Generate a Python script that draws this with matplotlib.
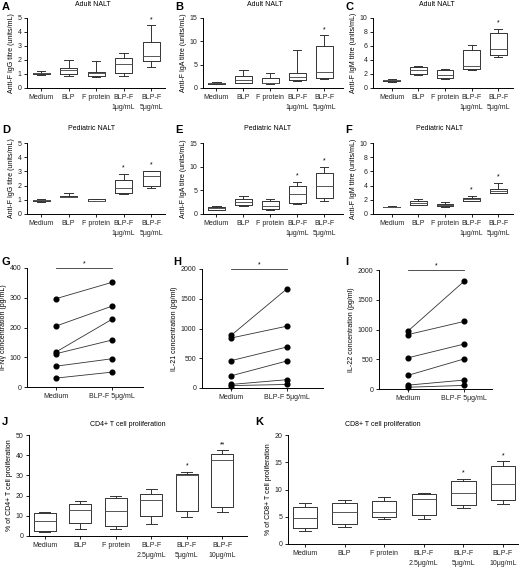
import matplotlib
matplotlib.use("Agg")
import matplotlib.pyplot as plt

plt.rcParams['font.family'] = ['Liberation Sans', 'DejaVu Sans']
plt.rcParams['font.size'] = 5
plt.rcParams['axes.linewidth'] = 0.7
plt.rcParams['xtick.major.width'] = 0.7
plt.rcParams['ytick.major.width'] = 0.7
plt.rcParams['xtick.major.size'] = 2.5
plt.rcParams['ytick.major.size'] = 2.5
plt.rcParams['xtick.major.pad'] = 2
plt.rcParams['ytick.major.pad'] = 1.5

W, H = 520, 567

# ---------------- data ----------------
cats5 = ["Medium", "BLP", "F protein", "BLP-F\n1μg/mL", "BLP-F\n5μg/mL"]
cats6 = ["Medium", "BLP", "F protein", "BLP-F\n2.5μg/mL", "BLP-F\n5μg/mL", "BLP-F\n10μg/mL"]

# box stats: whisker low, q1, median, q3, whisker high
A_lo  = [0.95, 0.85, 0.80, 0.85, 1.50]
A_q1  = [1.00, 1.00, 0.85, 1.10, 1.95]
A_med = [1.05, 1.30, 1.05, 1.70, 2.30]
A_q3  = [1.10, 1.45, 1.15, 2.15, 3.30]
A_hi  = [1.20, 2.00, 1.95, 2.50, 4.50]
A_sig = ["", "", "", "", "*"]

B_lo  = [0.80, 1.00, 0.90, 1.50, 2.00]
B_q1  = [0.90, 1.10, 1.00, 1.80, 2.20]
B_med = [1.00, 1.70, 1.10, 2.40, 3.40]
B_q3  = [1.10, 2.60, 2.20, 3.20, 9.10]
B_hi  = [1.30, 3.80, 3.20, 8.20, 11.30]
B_sig = ["", "", "", "", "*"]

C_lo  = [0.90, 1.90, 1.30, 2.60, 4.40]
C_q1  = [1.00, 2.00, 1.40, 2.70, 4.70]
C_med = [1.10, 2.60, 1.80, 3.20, 5.60]
C_q3  = [1.20, 3.05, 2.60, 5.50, 7.80]
C_hi  = [1.30, 3.10, 2.70, 6.20, 8.50]
C_sig = ["", "", "", "", "*"]

D_lo  = [0.85, 1.20, 0.90, 1.40, 1.85]
D_q1  = [0.95, 1.20, 0.90, 1.50, 2.00]
D_med = [1.00, 1.22, 0.95, 1.80, 2.70]
D_q3  = [1.02, 1.25, 1.05, 2.40, 3.00]
D_hi  = [1.05, 1.45, 1.05, 2.85, 3.05]
D_sig = ["", "", "", "*", "*"]

E_lo  = [0.80, 1.60, 0.80, 2.20, 2.80]
E_q1  = [0.90, 2.00, 1.00, 2.40, 3.30]
E_med = [1.20, 2.50, 1.60, 4.20, 6.00]
E_q3  = [1.50, 3.20, 2.70, 6.00, 8.60]
E_hi  = [1.60, 3.90, 3.20, 6.80, 10.00]
E_sig = ["", "", "", "*", "*"]

F_lo  = [0.95, 1.20, 1.00, 1.80, 2.90]
F_q1  = [1.00, 1.30, 1.10, 1.90, 3.00]
F_med = [1.00, 1.55, 1.25, 2.10, 3.20]
F_q3  = [1.05, 1.80, 1.35, 2.30, 3.50]
F_hi  = [1.10, 2.10, 1.65, 2.60, 4.40]
F_sig = ["", "", "", "*", "*"]

pair_cats = ["Medium", "BLP-F 5μg/mL"]
G_medium = [297, 205, 118, 112, 70, 30]
G_blpf   = [352, 272, 228, 158, 95, 50]
H_medium = [885, 840, 460, 205, 60, 40]
H_blpf   = [1670, 1040, 690, 455, 140, 60]
I_medium = [975, 915, 525, 230, 65, 30]
I_blpf   = [1810, 1135, 755, 505, 150, 60]

J_lo  = [2.0, 3.5, 3.7, 6.0, 9.5, 11.8]
J_q1  = [2.3, 6.3, 4.8, 9.7, 12.2, 14.5]
J_med = [7.5, 12.7, 12.3, 18.0, 30.3, 37.7]
J_q3  = [11.5, 16.0, 18.7, 21.0, 30.8, 40.5]
J_hi  = [11.8, 17.2, 20.0, 23.5, 31.8, 42.5]
J_sig = ["", "", "", "", "*", "**"]

K_lo  = [2.4, 3.1, 4.6, 4.6, 6.6, 7.4]
K_q1  = [2.9, 3.6, 4.9, 5.3, 7.1, 8.0]
K_med = [4.7, 5.8, 5.8, 8.3, 9.4, 11.1]
K_q3  = [6.8, 7.5, 7.8, 9.1, 11.5, 14.4]
K_hi  = [7.6, 8.0, 8.6, 9.3, 12.0, 15.2]
K_sig = ["", "", "", "", "*", "*"]

fig = plt.figure(figsize=(W / 100, H / 100), dpi=100)


def px_axes(left, top, right, bottom):
    return fig.add_axes([left / W, 1 - bottom / H, (right - left) / W, (bottom - top) / H])


def style(ax):
    for s in ("top", "right"):
        ax.spines[s].set_visible(False)
    ax.tick_params(direction="out", colors="#222222", labelcolor="#222222")


def box_panel(box, xlim, ylim, yticks, cats, lo, q1, med, q3, hi, sig, ylabel,
              title=None, width=0.62):
    ax = px_axes(*box)
    stats = []
    for i in range(len(cats)):
        stats.append(dict(whislo=lo[i], q1=q1[i], med=med[i], q3=q3[i],
                          whishi=hi[i], fliers=[], label=cats[i]))
    pos = list(range(len(cats)))
    ax.bxp(stats, positions=pos, widths=width, showfliers=False,
           boxprops=dict(color="#333333", linewidth=0.7),
           whiskerprops=dict(color="#333333", linewidth=0.7),
           capprops=dict(color="#333333", linewidth=0.7),
           medianprops=dict(color="#555555", linewidth=0.7),
           capwidths=width * 0.5)
    for i, s in enumerate(sig):
        if s:
            ax.annotate(s, (i, hi[i]), xytext=(0, 1.5), textcoords="offset points",
                        ha="center", va="bottom", fontsize=5)
    ax.set_xlim(*xlim)
    ax.set_ylim(*ylim)
    ax.set_yticks(yticks)
    ax.set_xticks(pos)
    ax.set_xticklabels(cats, fontsize=5, linespacing=1.5)
    ax.set_ylabel(ylabel, fontsize=5, labelpad=2)
    style(ax)
    if title:
        ax.set_title(title, fontsize=5, pad=0)
    return ax


def pair_panel(box, xlim, ylim, yticks, a, b, ylabel):
    ax = px_axes(*box)
    for va, vb in zip(a, b):
        ax.plot([0, 1], [va, vb], color="#333333", linewidth=0.6,
                marker="o", markersize=3.4, markerfacecolor="black",
                markeredgecolor="black", clip_on=False)
    ax.set_xlim(*xlim)
    ax.set_ylim(*ylim)
    ax.set_yticks(yticks)
    ax.set_xticks([0, 1])
    ax.set_xticklabels(pair_cats, fontsize=5)
    ax.set_ylabel(ylabel, fontsize=5, labelpad=2)
    ax.plot([0, 1], [ylim[1], ylim[1]], color="#333333", linewidth=0.6, clip_on=False)
    ax.annotate("*", (0.5, ylim[1]), xytext=(0, 0.5), textcoords="offset points",
                ha="center", va="bottom", fontsize=5)
    style(ax)
    return ax


# Row 1
box_panel((27, 18, 165, 88), (-0.51, 4.5), (0, 5), range(0, 6), cats5,
          A_lo, A_q1, A_med, A_q3, A_hi, A_sig, "Anti-F IgG titre (units/mL)")
box_panel((203, 18, 343, 88), (-0.5, 4.7), (0, 15), range(0, 16, 5), cats5,
          B_lo, B_q1, B_med, B_q3, B_hi, B_sig, "Anti-F IgA titre (units/mL)")
box_panel((373, 18, 513, 88), (-0.7, 4.55), (0, 10), range(0, 11, 2), cats5,
          C_lo, C_q1, C_med, C_q3, C_hi, C_sig, "Anti-F IgM titre (units/mL)")

# Row 2
box_panel((27, 143, 165, 214), (-0.51, 4.5), (0, 5), range(0, 6), cats5,
          D_lo, D_q1, D_med, D_q3, D_hi, D_sig, "Anti-F IgG titre (units/mL)")
box_panel((203, 143, 343, 214), (-0.5, 4.7), (0, 15), range(0, 16, 5), cats5,
          E_lo, E_q1, E_med, E_q3, E_hi, E_sig, "Anti-F IgA titre (units/mL)")
box_panel((373, 143, 513, 214), (-0.7, 4.55), (0, 10), range(0, 11, 2), cats5,
          F_lo, F_q1, F_med, F_q3, F_hi, F_sig, "Anti-F IgM titre (units/mL)")

# Row 3
pair_panel((27, 268, 143, 387), (-0.52, 1.55), (0, 400), range(0, 401, 100),
           G_medium, G_blpf, "IFNγ concentration (pg/mL)")
pair_panel((202, 269, 323, 388), (-0.52, 1.64), (0, 2000), range(0, 2001, 500),
           H_medium, H_blpf, "IL-21 concentration (pg/ml)")
pair_panel((379, 270, 492, 389), (-0.52, 1.5), (0, 2000), range(0, 2001, 500),
           I_medium, I_blpf, "IL-22 concentration (pg/ml)")

# Row 4
box_panel((29, 435, 247, 536), (-0.45, 5.7), (0, 50), range(0, 51, 10), cats6,
          J_lo, J_q1, J_med, J_q3, J_hi, J_sig, "% of CD4+ T cell proliferation")
box_panel((288, 435, 518, 544), (-0.43, 5.38), (0, 20), range(0, 21, 5), cats6,
          K_lo, K_q1, K_med, K_q3, K_hi, K_sig, "% of CD8+ T cell proliferation")

# Titles (figure text, pixel positions)
def ftext(x, y, s, **kw):
    fig.text(x / W, 1 - y / H, s, **kw)

for x in (93, 265, 437):
    ftext(x, 5, "Adult NALT", ha="center", va="center", fontsize=5)
for x in (92, 268, 440):
    ftext(x, 129, "Pediatric NALT", ha="center", va="center", fontsize=5)
ftext(128, 425, "CD4+ T cell proliferation", ha="center", va="center", fontsize=5)
ftext(383, 425, "CD8+ T cell proliferation", ha="center", va="center", fontsize=5)

letters = [("A", 2, 2), ("B", 175, 2), ("C", 345, 2),
           ("D", 2, 125), ("E", 175, 125), ("F", 345, 125),
           ("G", 2, 257), ("H", 173, 257), ("I", 345, 257),
           ("J", 2, 417), ("K", 255, 417)]
for s, x, y in letters:
    ftext(x, y, s, ha="left", va="top", fontsize=8, fontweight="bold")

fig.savefig("out.png", dpi=100)
